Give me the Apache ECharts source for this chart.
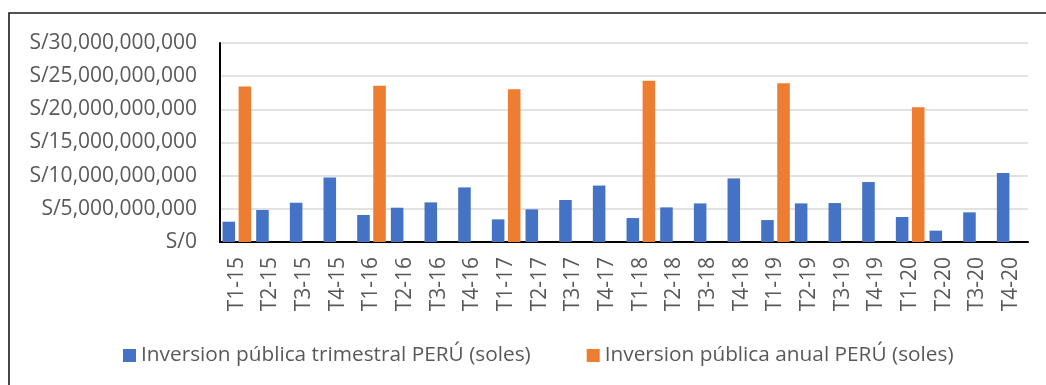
<!DOCTYPE html>
<html>
<head>
<meta charset="utf-8">
<script src="https://cdn.jsdelivr.net/npm/echarts@6/dist/echarts.min.js"></script>
<style>
  html, body { margin: 0; padding: 0; background: #ffffff; }
  #chart { width: 1046px; height: 385px; }
</style>
</head>
<body>
<div id="chart"></div>
<script>
// Quarters 2015–2020
const quarters = [
  'T1-15', 'T2-15', 'T3-15', 'T4-15',
  'T1-16', 'T2-16', 'T3-16', 'T4-16',
  'T1-17', 'T2-17', 'T3-17', 'T4-17',
  'T1-18', 'T2-18', 'T3-18', 'T4-18',
  'T1-19', 'T2-19', 'T3-19', 'T4-19',
  'T1-20', 'T2-20', 'T3-20', 'T4-20'
];

// Quarterly public investment (soles)
const quarterlyInvestment = [
  3060000000, 4820000000, 5920000000, 9740000000,
  4070000000, 5170000000, 5970000000, 8230000000,
  3410000000, 4920000000, 6330000000, 8510000000,
  3610000000, 5220000000, 5820000000, 9590000000,
  3310000000, 5820000000, 5870000000, 9040000000,
  3770000000, 1710000000, 4470000000, 10390000000
];

// Annual public investment (soles), shown at the first quarter of each year
const annualInvestment = [
  23450000000, null, null, null,
  23550000000, null, null, null,
  23040000000, null, null, null,
  24300000000, null, null, null,
  23950000000, null, null, null,
  20330000000, null, null, null
];

const seriesNames = [
  'Inversion pública trimestral PERÚ (soles)',
  'Inversion pública anual PERÚ (soles)'
];

const yMin = 0;
const yMax = 30000000000;
const yStep = 5000000000;

const fontFamily = "'Open Sans', 'Noto Sans', sans-serif";
const textColor = '#595959';

const chart = echarts.init(document.getElementById('chart'), null, { renderer: 'canvas' });

chart.setOption({
  backgroundColor: '#ffffff',
  animation: false,
  graphic: [{
    type: 'rect',
    shape: { x: 9, y: 13, width: 1100, height: 420 },
    style: { fill: 'none', stroke: '#1a1a1a', lineWidth: 1.6 },
    silent: true,
    z: 100
  }],
  grid: { left: 220, top: 43, right: 18, bottom: 143, containLabel: false },
  legend: {
    left: 118,
    top: 340,
    itemWidth: 13,
    itemHeight: 13,
    itemGap: 56,
    icon: 'rect',
    textStyle: { fontFamily: fontFamily, fontSize: 20.8, color: textColor },
    data: seriesNames
  },
  xAxis: {
    type: 'category',
    data: quarters,
    axisLine: { show: true, lineStyle: { color: '#000000', width: 2 } },
    axisTick: { show: false },
    axisLabel: {
      rotate: 90,
      margin: 15,
      interval: 0,
      fontFamily: fontFamily,
      fontSize: 21,
      color: textColor
    }
  },
  yAxis: {
    type: 'value',
    min: yMin,
    max: yMax,
    interval: yStep,
    axisLine: { show: true, lineStyle: { color: '#000000', width: 2 } },
    axisTick: { show: false },
    splitLine: { lineStyle: { color: '#D9D9D9', width: 1.5 } },
    axisLabel: {
      margin: 23,
      fontFamily: fontFamily,
      fontSize: 21,
      color: textColor,
      formatter: function (v) {
        return 'S/' + Number(v).toLocaleString('en-US');
      }
    }
  },
  series: [
    {
      name: seriesNames[0],
      type: 'bar',
      data: quarterlyInvestment,
      itemStyle: { color: '#4472C4' },
      barGap: '28%',
      barCategoryGap: '15%'
    },
    {
      name: seriesNames[1],
      type: 'bar',
      data: annualInvestment,
      itemStyle: { color: '#ED7D31' },
      barGap: '28%',
      barCategoryGap: '15%'
    }
  ]
});
</script>
</body>
</html>
